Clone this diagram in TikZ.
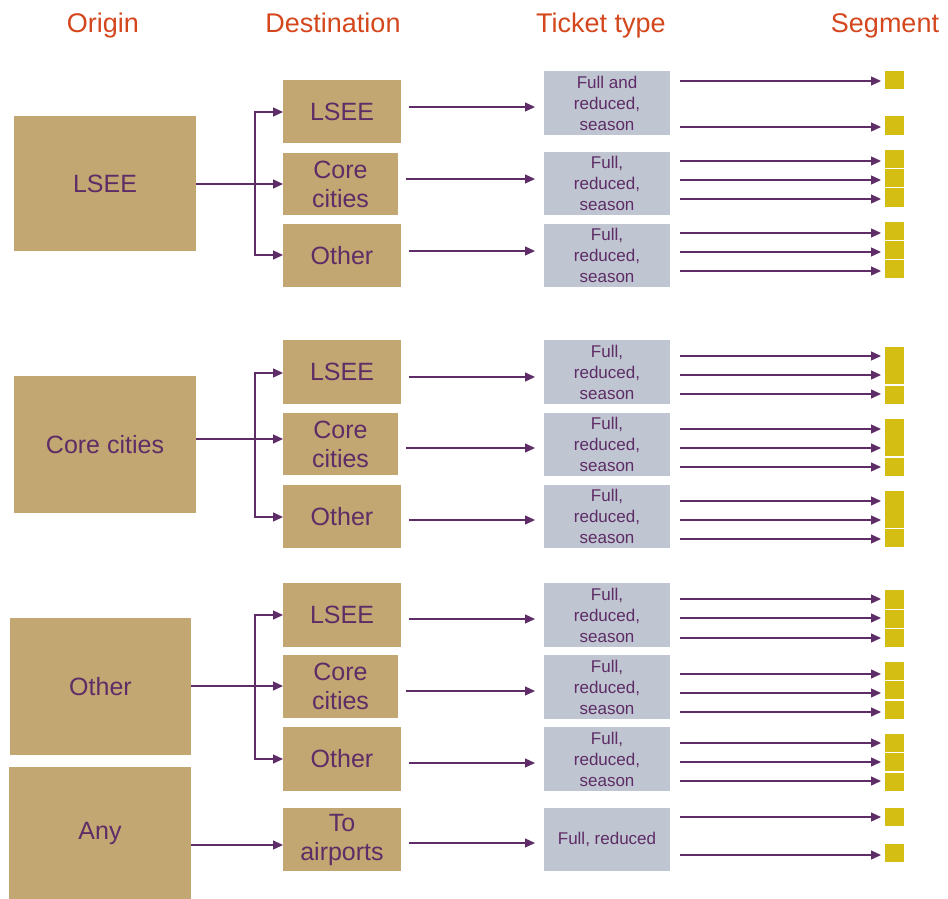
\documentclass[tikz,border=0pt]{standalone}
\usepackage{fontspec}
\setmainfont{Liberation Sans}
\usetikzlibrary{arrows.meta}

\definecolor{tanc}{HTML}{C2A772}
\definecolor{purp}{HTML}{5E2C66}
\definecolor{greyc}{HTML}{BFC5D1}
\definecolor{yell}{HTML}{D4BE13}
\definecolor{orng}{HTML}{D4461C}

% rbox{style}{name}{x1}{x2}{y1}{y2}{text}: a filled box given by its edges
\newcommand\rbox[7]{%
  \node[#1, minimum width={(#4-#3)*1pt}, minimum height={(#6-#5)*1pt}]
    (#2) at ({(#3+#4)/2},{(#5+#6)/2}) {#7};}
% destination -> ticket type arrow at height #3
\newcommand\darr[3]{\draw[arr] ([xshift=8pt]#1.east |- 0,#3) -- ([xshift=-9pt]#2.west |- 0,#3);}
% ticket type -> segment arrow at height #3
\newcommand\sarr[3]{\draw[arr] ([xshift=10pt]#1.east |- 0,#3) -- ([xshift=-4pt]#2.west |- 0,#3);}

\begin{document}
\begin{tikzpicture}[x=1pt,y=-1pt,
  tanbox/.style={fill=tanc, text=purp, inner sep=0pt, outer sep=0pt, align=center,
    font=\fontsize{25}{29}\selectfont},
  tickbox/.style={fill=greyc, text=purp, inner sep=0pt, outer sep=0pt, align=center,
    font=\fontsize{17}{21}\selectfont},
  segbox/.style={fill=yell, inner sep=0pt, outer sep=0pt},
  arr/.style={draw=purp, line width=1.3pt, -{Triangle[length=10pt,width=9pt]}},
  hdr/.style={text=orng, inner sep=0pt, anchor=base, font=\fontsize{27}{30}\selectfont}]
\useasboundingbox (0,0) rectangle (948,899);

% column headings
\node[hdr] (h1) at (103,33) {Origin};
\node[hdr] (h2) at (333,33) {Destination};
\node[hdr] (h3) at (601,33) {Ticket type};
\node[hdr] (h4) at (885,33) {Segment};

% ---------- origin LSEE ----------
\rbox{tanbox}{o1}{14}{196}{116}{251}{LSEE}
\rbox{tanbox}{d11}{283}{401}{80}{143}{LSEE}
\rbox{tanbox}{d12}{283}{398}{153}{215}{Core\\cities}
\rbox{tanbox}{d13}{283}{401}{224}{287}{Other}
\rbox{tickbox}{t11}{544}{670}{71}{135}{Full and\\reduced,\\season}
\rbox{tickbox}{t12}{544}{670}{152}{215}{Full,\\reduced,\\season}
\rbox{tickbox}{t13}{544}{670}{224}{287}{Full,\\reduced,\\season}
\rbox{segbox}{s1a}{885}{904}{71}{89}{}
\rbox{segbox}{s1b}{885}{904}{116}{135}{}
\rbox{segbox}{s1c}{885}{904}{150}{168}{}
\rbox{segbox}{s1d}{885}{904}{169}{187}{}
\rbox{segbox}{s1e}{885}{904}{188}{207}{}
\rbox{segbox}{s1f}{885}{904}{222}{240}{}
\rbox{segbox}{s1g}{885}{904}{241}{259}{}
\rbox{segbox}{s1h}{885}{904}{260}{278}{}

\coordinate (b1) at (255,184);
\draw[arr] (o1.east |- b1) -- (d12.west |- b1);
\draw[arr] (b1) |- (d11.west |- 0,112);
\draw[arr] (b1) |- (d13.west |- 0,255);
\darr{d11}{t11}{107}
\darr{d12}{t12}{179}
\darr{d13}{t13}{251}
\sarr{t11}{s1a}{81}
\sarr{t11}{s1b}{127}
\sarr{t12}{s1c}{161}
\sarr{t12}{s1d}{180}
\sarr{t12}{s1e}{199}
\sarr{t13}{s1f}{233}
\sarr{t13}{s1g}{252}
\sarr{t13}{s1h}{271}

% ---------- origin Core cities ----------
\rbox{tanbox}{o2}{14}{196}{376}{513}{Core cities}
\rbox{tanbox}{d21}{283}{401}{340}{404}{LSEE}
\rbox{tanbox}{d22}{283}{398}{413}{475}{Core\\cities}
\rbox{tanbox}{d23}{283}{401}{485}{548}{Other}
\rbox{tickbox}{t21}{544}{670}{340}{404}{Full,\\reduced,\\season}
\rbox{tickbox}{t22}{544}{670}{413}{476}{Full,\\reduced,\\season}
\rbox{tickbox}{t23}{544}{670}{485}{548}{Full,\\reduced,\\season}
\rbox{segbox}{s2a}{885}{904}{347}{384}{}
\rbox{segbox}{s2b}{885}{904}{386}{404}{}
\rbox{segbox}{s2c}{885}{904}{419}{456}{}
\rbox{segbox}{s2d}{885}{904}{458}{476}{}
\rbox{segbox}{s2e}{885}{904}{491}{528}{}
\rbox{segbox}{s2f}{885}{904}{529}{547}{}

\coordinate (b2) at (255,439);
\draw[arr] (o2.east |- b2) -- (d22.west |- b2);
\draw[arr] (b2) |- (d21.west |- 0,373);
\draw[arr] (b2) |- (d23.west |- 0,517);
\darr{d21}{t21}{377}
\darr{d22}{t22}{448}
\darr{d23}{t23}{520}
\sarr{t21}{s2a}{356}
\sarr{t21}{s2a}{375}
\sarr{t21}{s2b}{394}
\sarr{t22}{s2c}{429}
\sarr{t22}{s2c}{448}
\sarr{t22}{s2d}{467}
\sarr{t23}{s2e}{501}
\sarr{t23}{s2e}{520}
\sarr{t23}{s2f}{539}

% ---------- origin Other / Any ----------
\rbox{tanbox}{o3}{10}{191}{618}{755}{Other}
\rbox{tanbox}{o4}{9}{191}{767}{899}{Any}
\rbox{tanbox}{d31}{283}{401}{583}{647}{LSEE}
\rbox{tanbox}{d32}{283}{398}{655}{718}{Core\\cities}
\rbox{tanbox}{d33}{283}{401}{727}{791}{Other}
\rbox{tanbox}{d34}{283}{401}{808}{871}{To\\airports}
\rbox{tickbox}{t31}{544}{670}{583}{647}{Full,\\reduced,\\season}
\rbox{tickbox}{t32}{544}{670}{655}{719}{Full,\\reduced,\\season}
\rbox{tickbox}{t33}{544}{670}{727}{791}{Full,\\reduced,\\season}
\rbox{tickbox}{t34}{544}{670}{808}{871}{Full, reduced}
\rbox{segbox}{s3a}{885}{904}{590}{609}{}
\rbox{segbox}{s3b}{885}{904}{610}{628}{}
\rbox{segbox}{s3c}{885}{904}{629}{647}{}
\rbox{segbox}{s3d}{885}{904}{662}{680}{}
\rbox{segbox}{s3e}{885}{904}{681}{699}{}
\rbox{segbox}{s3f}{885}{904}{701}{719}{}
\rbox{segbox}{s3g}{885}{904}{734}{752}{}
\rbox{segbox}{s3h}{885}{904}{753}{771}{}
\rbox{segbox}{s3i}{885}{904}{773}{791}{}
\rbox{segbox}{s3j}{885}{904}{808}{826}{}
\rbox{segbox}{s3k}{885}{904}{844}{862}{}

\coordinate (b3) at (255,686);
\draw[arr] (o3.east |- b3) -- (d32.west |- b3);
\draw[arr] (b3) |- (d31.west |- 0,615);
\draw[arr] (b3) |- (d33.west |- 0,759);
\draw[arr] (o4.east |- 0,845) -- (d34.west |- 0,845);
\darr{d31}{t31}{619}
\darr{d32}{t32}{691}
\darr{d33}{t33}{763}
\darr{d34}{t34}{843}
\sarr{t31}{s3a}{599}
\sarr{t31}{s3b}{618}
\sarr{t31}{s3c}{638}
\sarr{t32}{s3d}{674}
\sarr{t32}{s3e}{693}
\sarr{t32}{s3f}{712}
\sarr{t33}{s3g}{743}
\sarr{t33}{s3h}{762}
\sarr{t33}{s3i}{781}
\sarr{t34}{s3j}{817}
\sarr{t34}{s3k}{855}
\end{tikzpicture}
\end{document}
